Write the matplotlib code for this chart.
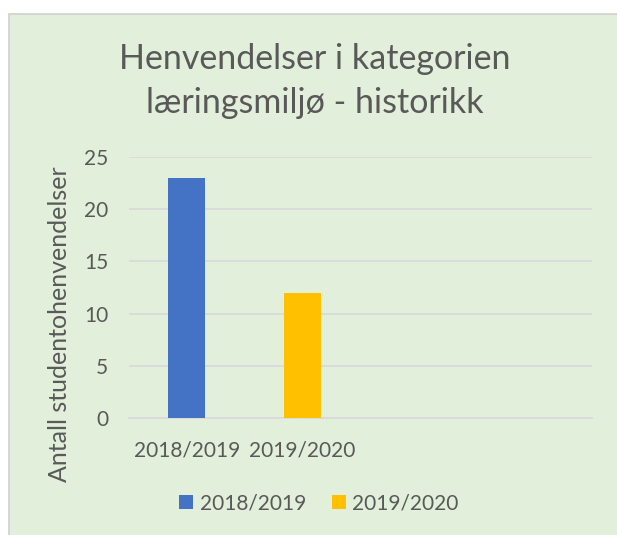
import matplotlib
matplotlib.use("Agg")
import matplotlib.pyplot as plt
from matplotlib.patches import Rectangle

categories = ["2018/2019", "2019/2020", "", ""]
series_names = ["2018/2019", "2019/2020"]
series_values = [
    [23, 0, 0, 0],
    [0, 12, 0, 0],
]
colors = ["#4472C4", "#FFC000"]
yticks = [0, 5, 10, 15, 20, 25]
title_lines = ["Henvendelser i kategorien", "læringsmiljø - historikk"]
ylabel = "Antall studentohenvendelser"

plt.rcParams['font.family'] = ['Lato', 'DejaVu Sans']
txt = "#595959"
bg = "#E2EFDA"

W, H = 617, 535
fig = plt.figure(figsize=(W / 100, H / 100), dpi=100)
fig.patch.set_facecolor("white")
fig.patches.append(Rectangle((8.5 / W, -0.01), 1.02 - 8.5 / W, 1.01 - 13.5 / H,
                             transform=fig.transFigure, facecolor=bg,
                             edgecolor="#D0D0D0", linewidth=1.2, zorder=-5))

ax_l, ax_r, ax_t, ax_b = 129, 592, 157, 418
ax = fig.add_axes([ax_l / W, 1 - ax_b / H, (ax_r - ax_l) / W, (ax_b - ax_t) / H])
ax.set_facecolor("none")
ax.set_zorder(2)

x = list(range(len(categories)))
bw = 0.32
for name, vals, c in zip(series_names, series_values, colors):
    xs = [xi for xi, v in zip(x, vals) if v]
    vs = [v for v in vals if v]
    ax.bar(xs, vs, width=bw, color=c, label=name, zorder=3)

ax.set_xlim(-0.5, len(categories) - 0.5)
ax.set_ylim(0, 25)
ax.set_yticks(yticks)
ax.set_xticks(x)
ax.set_xticklabels(categories)
ax.grid(axis="y", color="#D9D9D9", linewidth=1.2, zorder=0)
for s in ["top", "right", "left"]:
    ax.spines[s].set_visible(False)
ax.spines["bottom"].set_color("#D9D9D9")
ax.spines["bottom"].set_linewidth(1.2)
ax.tick_params(axis="both", length=0, labelsize=15, colors=txt)
ax.tick_params(axis="y", pad=15)
ax.tick_params(axis="x", pad=16)

fig.text(60 / W, 1 - 324 / H, ylabel, rotation=90, ha="center", va="center",
         fontsize=18, color=txt)
baselines = [69, 113]
for line, yb in zip(title_lines, baselines):
    fig.text(315 / W, 1 - yb / H, line, ha="center", va="baseline",
             fontsize=24.5, color=txt)

leg = fig.legend(loc="center", bbox_to_anchor=(319 / W, 1 - 503 / H), ncol=2,
                 frameon=False, fontsize=15, handlelength=0.67, handleheight=0.67,
                 handletextpad=0.3, columnspacing=1.25)
for t in leg.get_texts():
    t.set_color(txt)

fig.savefig("out.png", dpi=100, facecolor=fig.get_facecolor())
